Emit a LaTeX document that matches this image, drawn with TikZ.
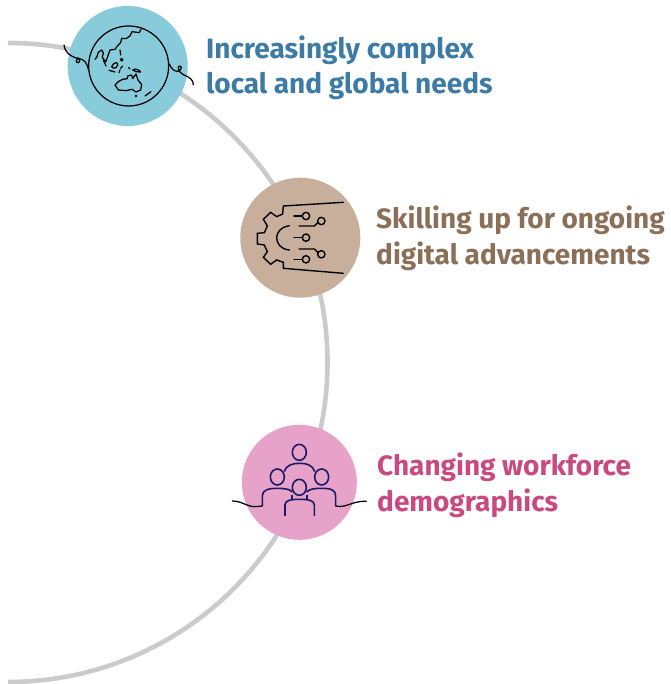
\documentclass[tikz,border=0pt]{standalone}
\usepackage{fontspec}
\setmainfont{Fira Sans}
\definecolor{ringgrey}{HTML}{CBCBCB}
\definecolor{tealfill}{HTML}{88CBDB}
\definecolor{tanfill}{HTML}{C7AF9C}
\definecolor{pinkfill}{HTML}{E6A2C9}
\definecolor{bluetext}{HTML}{3B7BA5}
\definecolor{browntext}{HTML}{8B7059}
\definecolor{pinktext}{HTML}{C94A80}
\definecolor{navyline}{HTML}{1A1A66}
\tikzset{
  badge/.style={circle,inner sep=0pt,minimum size=#1},
  caption/.style={anchor=west,align=left,inner sep=0pt,font=\fontsize{28}{35.5}\selectfont\bfseries},
  ink/.style={draw=black,line width=1.25pt,line cap=round,line join=round},
  inkb/.style={draw=black,line width=1.4pt,line cap=round,line join=miter},
  people/.style={draw=navyline,line width=1.6pt,line cap=butt,line join=round}
}
\begin{document}
\begin{tikzpicture}[x=1pt,y=1pt]
\useasboundingbox (0,0) rectangle (670,684);
\draw[ringgrey,line width=4.6pt] (8,641) arc[start angle=90,end angle=-90,radius=319.5];
\node[badge=120pt,fill=tealfill] (globeBadge) at (127.7,618) {};
\node[badge=120pt,fill=tanfill] (gearBadge) at (300.3,446.3) {};
\node[badge=115pt,fill=pinkfill] (peopleBadge) at (299.3,201.7) {};
\node[caption,text=bluetext] (t1) at (206,616.2) {Increasingly complex\\local and global needs};
\node[caption,text=browntext] (t2) at (376,445.6) {Skilling up for ongoing\\digital advancements};
\node[caption,text=pinktext] (t3) at (377,198.6) {Changing workforce\\demographics};
% globe icon
\begin{scope}[shift={(50,684)},x=0.3333pt,y=-0.3333pt]
\draw[ink] (236,198) circle[radius=120];
\draw[ink] (42,135) .. controls (46,160) and (62,168) .. (78,174) .. controls (86,170) and (94,182) .. (86,188) .. controls (76,190) and (76,176) .. (88,176) .. controls (104,178) and (112,192) .. (115,208);
\draw[ink] (358,192) .. controls (364,206) and (372,214) .. (383,214) .. controls (392,214) and (398,200) .. (390,198) .. controls (380,198) and (384,216) .. (400,224) .. controls (420,232) and (430,240) .. (430,254);
\draw[ink] (135,178) -- (140,172) -- (145,157) -- (155,150) -- (160,158) -- (157,172) -- (167,186) -- (173,170) -- (180,150) -- (195,148) -- (205,135) -- (212,128) -- (215,115) -- (228,116) -- (240,108) -- (246,95) -- (268,98) -- (273,88);
\draw[ink] (160,180) -- (168,198);
\draw[ink] (210,150) -- (212,165);
\draw[ink] (215,179) circle[radius=4];
\draw[ink] (185,200) .. controls (192,185) and (205,185) .. (203,195) .. controls (200,205) and (190,208) .. (185,200);
\draw[ink] (177,211) -- (195,216);
\draw[ink] (212,205) -- (218,198);
\draw[ink] (207,218) -- (210,210);
\draw[ink] (236,203) -- (240,207);
\draw[ink] (248,210) .. controls (256,204) and (268,210) .. (272,216) .. controls (262,218) and (254,214) .. (248,210);
\draw[ink] (195,255) -- (205,245) -- (218,238) -- (232,236) -- (233,228) -- (245,225) -- (248,236) -- (258,222) -- (264,240) -- (275,254) -- (272,270) -- (258,276) -- (246,268) -- (228,272) -- (205,270) -- cycle;
\draw[ink] (285,288) -- (303,275);
\fill (258,288) circle[radius=4];
\end{scope}
% gear icon
\begin{scope}[shift={(230,514)},x=0.3333pt,y=-0.3333pt]
\draw[inkb] (340,97) -- (160,108) -- (158,132) -- (140,140) -- (122,127) -- (100,148) -- (112,168) -- (103,188) -- (82,190) -- (82,222) -- (103,225) -- (112,245) -- (100,262) -- (122,283) -- (140,270) -- (160,277) -- (160,295) -- (340,310);
\draw[inkb] (178,167) .. controls (150,172) and (140,190) .. (140,203) .. controls (140,220) and (152,238) .. (178,240);
\draw[inkb] (192,138) -- (217,138);
\draw[inkb] (228,138) circle[radius=11];
\draw[inkb] (207,168) -- (253,168) -- (263,158);
\draw[inkb] (274,153) circle[radius=11];
\draw[inkb] (192,203) -- (217,203);
\draw[inkb] (228,203) circle[radius=11];
\draw[inkb] (207,237) -- (253,237) -- (264,248);
\draw[inkb] (274,253) circle[radius=11];
\draw[inkb] (192,268) -- (217,268);
\draw[inkb] (228,268) circle[radius=11];
\end{scope}
% people icon
\begin{scope}[shift={(225,264)},x=0.3333pt,y=-0.3333pt]
\draw[people] (223,97) ellipse[x radius=21,y radius=24];
\draw[people] (157,171) ellipse[x radius=21,y radius=24];
\draw[people] (290,171) ellipse[x radius=21,y radius=24];
\draw[people] (223,202) ellipse[x radius=21,y radius=24];
\draw[people] (178,155) .. controls (184,134) and (205,130) .. (223,130) .. controls (245,130) and (262,134) .. (269,155);
\draw[people] (112,258) -- (112,228) .. controls (112,210) and (130,205) .. (157,205) .. controls (175,205) and (195,207) .. (202,216);
\draw[people] (245,216) .. controls (252,207) and (270,205) .. (290,205) .. controls (318,205) and (332,210) .. (332,228) -- (332,258);
\draw[people] (180,288) -- (180,255) .. controls (180,242) and (195,238) .. (223,238) .. controls (252,238) and (268,242) .. (268,255) -- (268,288);
\draw[people] (201,238) -- (201,224);
\draw[people] (246,238) -- (246,224);
\draw[ink] (22,243) .. controls (50,243) and (65,260) .. (90,260) .. controls (100,260) and (105,258) .. (112,258);
\draw[ink] (332,258) .. controls (340,260) and (350,260) .. (358,258) .. controls (380,252) and (395,243) .. (424,244);
\end{scope}
\end{tikzpicture}
\end{document}
